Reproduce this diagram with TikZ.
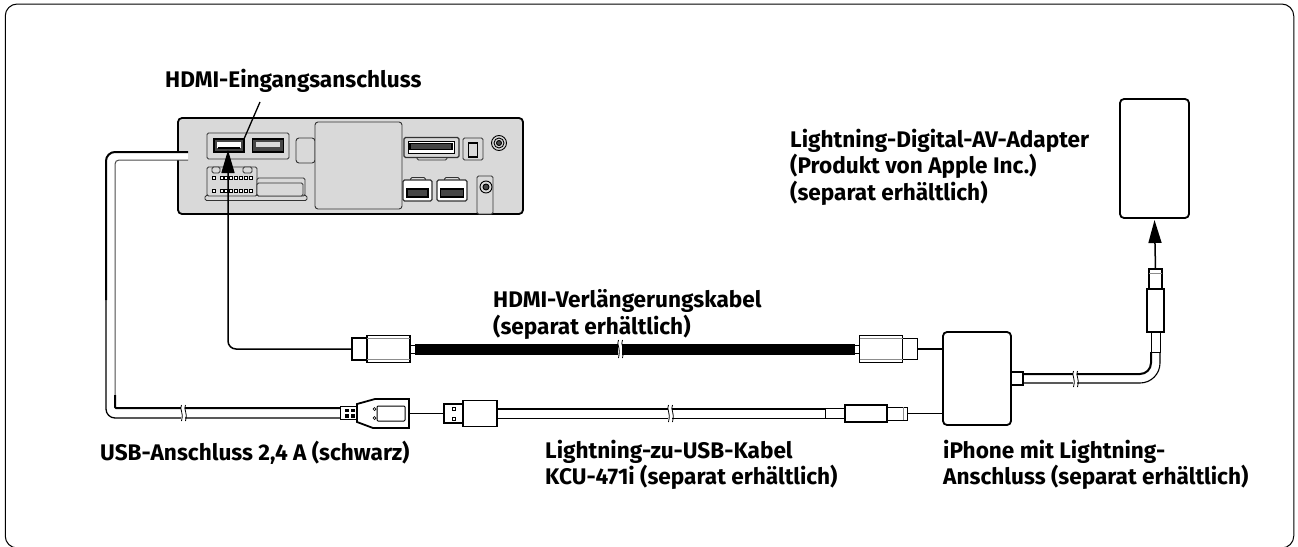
\documentclass[tikz,border=0pt]{standalone}
\usepackage{xcolor}
\usepackage{fontspec}
\setmainfont{Fira Sans}
\usepackage{tikz}
\usetikzlibrary{arrows.meta,positioning,calc}
\definecolor{devgray}{RGB}{217,217,217}
\definecolor{slotgray}{RGB}{70,70,70}
\tikzset{
  lbl/.style={font=\fontsize{22.6}{26.6}\selectfont\bfseries,align=left,anchor=west,
              inner sep=0pt,text=black},
  dev/.style={draw=black,line width=1.8pt,fill=devgray,rounded corners=4pt,
              inner sep=0pt,outer sep=0pt},
  part/.style={draw=black!80,line width=0.9pt,fill=devgray,rounded corners=1.5pt,
              inner sep=0pt,outer sep=0pt},
  port/.style={draw=black,line width=1.2pt,fill=white,inner sep=0pt,outer sep=0pt},
  con/.style={draw=black,line width=1.8pt,fill=white,inner sep=0pt,outer sep=0pt},
  box/.style={con,rounded corners=4pt},
  wire/.style={draw=black,line width=1.3pt},
  arr/.style={-{Triangle[length=23pt,width=13pt]},draw=black,line width=1.5pt},
  cabhi/.style={draw=black,line width=2pt},
  cablo/.style={draw=black,line width=1pt},
  brk/.style={draw=black,line width=0.8pt},
  inner/.style={draw=black!45,line width=0.7pt},
  ring/.style={circle,draw=black,line width=0.9pt,fill=devgray,inner sep=0pt},
}
\newcommand{\cablebreak}[3]{% x, top, bottom
  \fill[white] (#1-2,#2-1) rectangle (#1+2,#3+1);
  \draw[brk] (#1-1.5,#2-3) .. controls (#1-4,#2+2) and (#1+1,#2+3) .. (#1-1.5,#3+3);
  \draw[brk] (#1+2.5,#2-3) .. controls (#1,#2+2) and (#1+5,#2+3) .. (#1+2.5,#3+3);
}
\begin{document}
\begin{tikzpicture}[x=1pt,y=-1pt]
  \useasboundingbox (0,0) rectangle (1298,546);
  \node[draw=black,line width=1pt,rounded corners=12pt,minimum width=1288.5,minimum height=544,
        inner sep=0pt,outer sep=0pt](frame) at (649.5,276) {};

  % Head unit
  \node[dev,minimum width=345,minimum height=96](unit) at (350.5,166) {};
  \node[part,minimum width=82,minimum height=26](hdmipanel) at (248,146) {};
  \node[port,fill=slotgray,minimum width=30,minimum height=13](hdmiport) at (229,145.5) {};
  \node[port,minimum width=24,minimum height=6,draw=none](hdmislot) at (229,145) {};
  \fill[black] ($(hdmislot.center)+(-11,1.5)$) rectangle ($(hdmislot.center)+(11,3.5)$);
  \node[port,fill=slotgray,minimum width=31,minimum height=13](hdmiport2) at (268,145.5) {};
  \node[port,fill=devgray,minimum width=24,minimum height=5,draw=none](hdmislot2) at (268,144) {};
  \node[part,rounded corners=3pt,minimum width=19,minimum height=25](knob) at (305.5,150.5) {};
  \node[part,rounded corners=3pt,minimum width=87,minimum height=87](lid) at (358.5,165.5) {};
  % Right side connectors
  \node[part,minimum width=30,minimum height=4](auxtab) at (432,158) {};
  \node[part,line width=1.2pt,minimum width=55,minimum height=20](auxcon) at (431.5,147.5) {};
  \node[port,line width=0.8pt,minimum width=46,minimum height=12,fill=white](auxin) at (431,147) {};
  \node[port,minimum width=42,minimum height=6,fill=slotgray](auxpins) at (431,146.5) {};
  \node[part,minimum width=20,minimum height=22](fuse) at (473,149) {};
  \node[port,fill=devgray,minimum width=9,minimum height=14](fuseslot) at (473,150) {};
  \node[ring,minimum size=15](ant) at (499,143) {};
  \node[ring,minimum size=10](antmid) at (499,143) {};
  \node[ring,fill=slotgray,minimum size=5](antin) at (499,143) {};
  \node[part,minimum width=15,minimum height=5](lowtab) at (418,180) {};
  \node[part,line width=1.2pt,minimum width=29,minimum height=21,fill=white](lowcon) at (417.5,190.5) {};
  \node[port,minimum width=21,minimum height=8,fill=slotgray](lowpin) at (417.5,193) {};
  \node[part,minimum width=15,minimum height=5](lowtabtwo) at (452,180) {};
  \node[part,line width=1.2pt,minimum width=30,minimum height=21,fill=white](lowcontwo) at (452,190.5) {};
  \node[port,minimum width=23,minimum height=8,fill=slotgray](lowpintwo) at (452,193) {};
  \node[part,minimum width=16,minimum height=38](jackbox) at (485,195) {};
  \node[ring,minimum size=12](jackrim) at (486,187) {};
  \node[ring,fill=slotgray,minimum size=6](jack) at (486,187) {};
  % Harness connector
  \node[part,minimum width=102,minimum height=5](flange) at (256,198) {};
  \node[part,minimum width=50,minimum height=29](harness) at (232,181.5) {};
  \node[part,minimum width=48,minimum height=18](harnessext) at (281,187) {};
  \node[part,minimum width=46,minimum height=13](harnesslid) at (280,189.5) {};
  \node[part,minimum width=8,minimum height=6](tabl) at (216,170) {};
  \node[part,minimum width=9,minimum height=6](tabr) at (247.5,170) {};
  \foreach \x in {214,222,226,231,236,241,246,251}{
    \draw[black,fill=white,line width=0.8pt] (\x-1.6,176.4) rectangle (\x+1.6,179.6);
    \draw[black,fill=white,line width=0.8pt] (\x-1.6,189.4) rectangle (\x+1.6,192.6);
  }
  \fill[white] (177,152) rectangle (188,160);

  % Labels
  \node[lbl](hdmilbl) at (165,81) {HDMI-Eingangsanschluss};
  \node[lbl](adapterlbl) at (790,167) {Lightning-Digital-AV-Adapter\\(Produkt von Apple Inc.)\\(separat erhältlich)};
  \node[lbl](extlbl) at (493,314.5) {HDMI-Verlängerungskabel\\(separat erhältlich)};
  \node[lbl](usblbl) at (100,453) {USB-Anschluss 2,4 A (schwarz)};
  \node[lbl](kculbl) at (545,465) {Lightning-zu-USB-Kabel\\KCU-471i (separat erhältlich)};
  \node[lbl](iphonelbl) at (943,465) {iPhone mit Lightning-\\Anschluss (separat erhältlich)};

  % HDMI cable
  \node[con,minimum width=15,minimum height=22](hdmitipl) at (359.5,349) {};
  \node[con,minimum width=43,minimum height=27,right=0pt of hdmitipl](hdmibodyl) {};
  \node[con,line width=0.9pt,minimum width=5,minimum height=8,right=0pt of hdmibodyl](hdmicapl) {};
  \node[con,minimum width=15,minimum height=21](hdmitipr) at (910,349) {};
  \node[con,minimum width=43,minimum height=27,left=0pt of hdmitipr](hdmibodyr) {};
  \node[con,line width=0.9pt,minimum width=5,minimum height=8,left=0pt of hdmibodyr](hdmicapr) {};
  \draw[inner]($(hdmibodyl.north west)+(0,3)$) -- ($(hdmibodyl.north east)+(0,3)$);
  \draw[inner]($(hdmibodyl.south west)+(0,-3)$) -- ($(hdmibodyl.south east)+(0,-3)$);
  \draw[inner]($(hdmibodyr.north west)+(0,3)$) -- ($(hdmibodyr.north east)+(0,3)$);
  \draw[inner]($(hdmibodyr.south west)+(0,-3)$) -- ($(hdmibodyr.south east)+(0,-3)$);
  \draw[line width=11pt,draw=black](hdmicapl.east) -- (hdmicapr.west);

  % Adapter and its two sockets
  \node[box,minimum width=68,minimum height=93](adapter) at (977,378.5) {};
  \node[box,minimum width=69,minimum height=119](ipad) at (1154.5,158.5) {};
  \draw[wire](hdmitipr.east) -- (hdmitipr.east -| adapter.west);

  % Arrows into the ports
  \draw[arr,rounded corners=8pt](hdmitipl.west) -| (228,150);
  \draw[line width=1.3pt](260,102) -- (hdmiport.north east);

  % USB socket cable
  \coordinate(usbtop) at (188,152);
  \coordinate(usbin) at (188,160);
  \node[con,line width=1pt,minimum width=17,minimum height=13](usbneck) at (348.5,413) {};
  \draw[cabhi,rounded corners=9pt](usbtop) -| (106,300);
  \draw[cablo,line width=1.3pt,rounded corners=9pt](106,299) |- (usbneck.south west |- 0,418);
  \draw[cablo,draw=black!70,rounded corners=4pt](usbin) -| (115,408);
  \draw[cabhi,rounded corners=1pt](115,395) |- (usbneck.north west |- 0,408);
  \fill[black](345,408.5) rectangle (349,412);\fill[black](351,408.5) rectangle (355,412);
  \fill[black](345,414) rectangle (349,417.5);\fill[black](351,414) rectangle (355,417.5);
  \draw[con](357,404) -- (375,399) -- (409,399) -- (409,428) -- (373,428) -- (357,422) -- cycle;
  \node[draw=black,line width=1pt,inner sep=0pt,rounded corners=1pt,minimum width=28,minimum height=15](usbwin) at (391,413.5) {};
  \node[circle,draw=black,line width=0.7pt,minimum size=3,inner sep=0pt](usbdotone) at (374.5,409) {};
  \node[circle,draw=black,line width=0.7pt,minimum size=3,inner sep=0pt](usbdottwo) at (374.5,418) {};
  \cablebreak{183}{408}{418}

  % Lightning to USB cable
  \node[con,minimum width=19,minimum height=19](usbtip) at (453.5,413.5) {};
  \node[con,minimum width=34,minimum height=26,right=0pt of usbtip](usbbody) {};
  \node[port,line width=0.7pt,minimum size=3](usbholeone) at (454,408.5) {};
  \node[port,line width=0.7pt,minimum size=3](usbholetwo) at (454,418.5) {};
  \draw[wire](409,413.5) -- (usbtip.west);
  \node[con,line width=1pt,minimum width=20,minimum height=10](ltneck) at (835,413.5) {};
  \node[con,minimum width=42,minimum height=17,right=0pt of ltneck](ltbody) {};
  \node[con,line width=1pt,minimum width=20,minimum height=13,right=0pt of ltbody](lttip) {};
  \draw[inner]($(lttip.north east)+(-4,0)$) -- ($(lttip.south east)+(-4,0)$);
  \draw[wire](lttip.east) -- (lttip.east -| adapter.west);
  \draw[cabhi](usbbody.east |- 0,408.5) -- (ltneck.north west);
  \draw[cablo](usbbody.east |- 0,418.5) -- (ltneck.south west);
  \cablebreak{670}{408}{419}
  \cablebreak{620}{343}{355}

  % Adapter output cable
  \node[con,minimum width=12,minimum height=13](stub) at (1017,378.5) {};
  \node[con,line width=1pt,minimum width=9,minimum height=20](upneck) at (1155.5,342) {};
  \node[con,minimum width=17,minimum height=43,above=0pt of upneck](upbody) {};
  \node[con,minimum width=13,minimum height=20,above=0pt of upbody](uptip) {};
  \draw[inner]($(uptip.north west)+(0,4)$) -- ($(uptip.north east)+(0,4)$);
  \draw[cabhi,rounded corners=11pt](stub.east |- 0,374) -| (upneck.south west);
  \draw[cablo,line width=1.1pt,rounded corners=20pt](stub.east |- 0,383) -| (upneck.south east);
  \cablebreak{1075}{374}{384}
  \draw[arr](uptip.north) -- (ipad.south |- 0,220);
\end{tikzpicture}
\end{document}
